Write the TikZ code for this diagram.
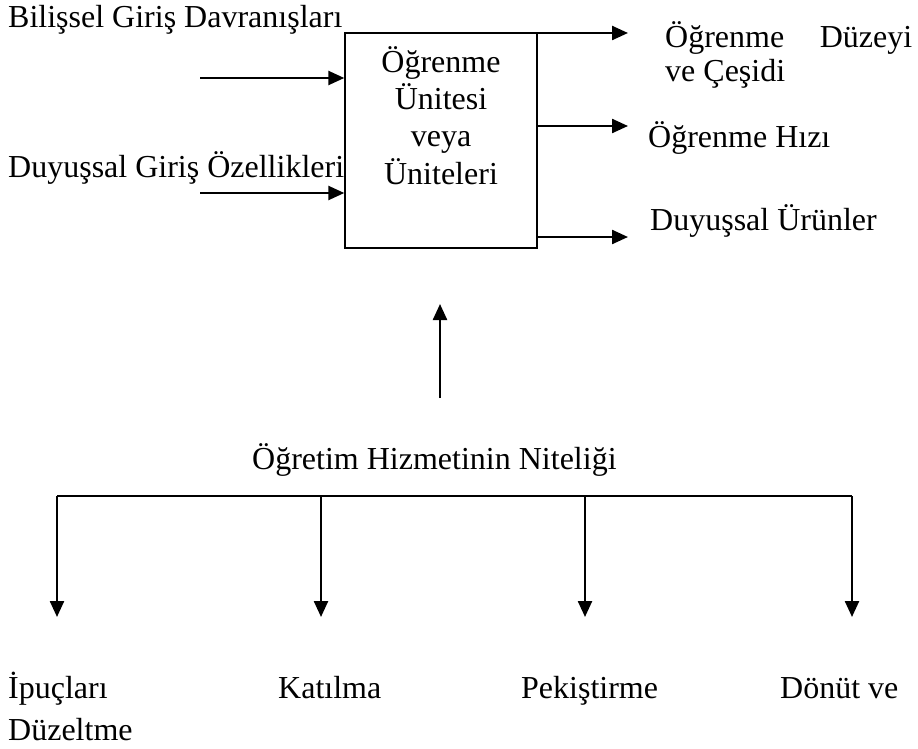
\documentclass[tikz,border=0pt]{standalone}
\usepackage{fontspec}
\setmainfont{Liberation Serif}
\usetikzlibrary{arrows.meta}
\begin{document}
\begin{tikzpicture}[x=1pt,y=-1pt,
  txt/.style={inner sep=0pt, font=\fontsize{32}{37.3}\selectfont},
  arr/.style={line width=2.4pt, -{Triangle[length=16pt,width=14pt]}},
  bar/.style={line width=2.4pt},
  boxstyle/.style={draw, line width=1.4pt, minimum width=192pt, minimum height=215pt, inner sep=0pt}
]
\useasboundingbox (0,0) rectangle (918,749);
% central box
\node[boxstyle] (box) at (441,140.5) {};
\node[txt, align=center, anchor=base] (boxlabel) at (441,184) {Öğrenme\\Ünitesi\\veya\\Üniteleri};
% inputs
\node[txt, anchor=base west] (in1t) at (8,28) {Bilişsel Giriş Davranışları};
\node[txt, anchor=base west] (in2t) at (8,177) {Duyuşsal Giriş Özellikleri};
\coordinate (in1) at (200,78);
\coordinate (in2) at (200,193);
\draw[arr] (in1) -- (in1 -| box.west);
\draw[arr] (in2) -- (in2 -| box.west);
% outputs
\coordinate (o1) at (628,33);
\coordinate (o2) at (628,126);
\coordinate (o3) at (628,237);
\draw[arr] (o1 -| box.east) -- (o1);
\draw[arr] (o2 -| box.east) -- (o2);
\draw[arr] (o3 -| box.east) -- (o3);
\node[txt, anchor=base west, align=left, font=\fontsize{32}{34}\selectfont] (o1t) at (665,82) {\makebox[247pt][s]{Öğrenme Düzeyi}\\ve Çeşidi};
\node[txt, anchor=base west] (o2t) at (648,147) {Öğrenme Hızı};
\node[txt, anchor=base west] (o3t) at (650,230) {Duyuşsal Ürünler};
% upward arrow
\coordinate (up0) at (440,398);
\coordinate (up1) at (440,304);
\draw[arr] (up0) -- (up1);
% bottom tree
\node[txt, anchor=base west] (title) at (252,469) {Öğretim Hizmetinin Niteliği};
\coordinate (barL) at (57,496);
\coordinate (barR) at (852,496);
\draw[bar] (barL) -- (barR);
\coordinate (d1) at (57,617);
\coordinate (d2) at (321,617);
\coordinate (d3) at (585,617);
\coordinate (d4) at (852,617);
\draw[arr] (barL) -- (d1);
\draw[arr] (d2 |- barL) -- (d2);
\draw[arr] (d3 |- barL) -- (d3);
\draw[arr] (barR) -- (d4);
\node[txt, anchor=base west, align=left, font=\fontsize{32}{42}\selectfont] (b1) at (8,740) {İpuçları\\Düzeltme};
\node[txt, anchor=base west] (b2) at (278,698) {Katılma};
\node[txt, anchor=base west] (b3) at (521,698) {Pekiştirme};
\node[txt, anchor=base west] (b4) at (780,698) {Dönüt ve};
\end{tikzpicture}
\end{document}
